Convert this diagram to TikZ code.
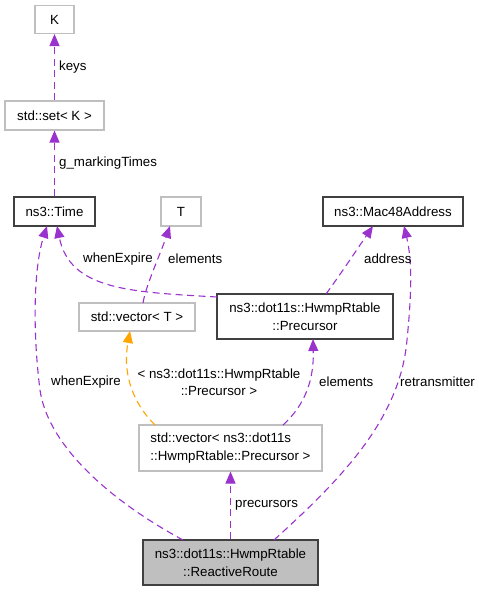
\documentclass[tikz,border=0pt]{standalone}
\usepackage{fontspec}
\setmainfont{Liberation Sans}
\usetikzlibrary{arrows.meta}
\definecolor{edgepurple}{HTML}{9A32CD}
\definecolor{edgeorange}{HTML}{FFA500}
\definecolor{boxgray}{HTML}{BFBFBF}
\definecolor{boxdark}{HTML}{404040}
\tikzset{
  base/.style={rectangle, inner sep=0pt, font=\fontsize{13.3}{17.5}\selectfont, text=black},
  gbox/.style={base, draw=boxgray, line width=1.1pt, fill=white},
  dbox/.style={base, draw=boxdark, line width=1.1pt, fill=white},
  rbox/.style={base, draw=boxdark, line width=1.1pt, fill=boxgray},
  edge/.style={draw=edgepurple, line width=1.1pt, dash pattern=on 7pt off 4.5pt,
    -{Triangle[length=12pt,width=10pt,fill=edgepurple]}},
  tedge/.style={draw=edgeorange, line width=1.1pt, dash pattern=on 7pt off 4.5pt,
    -{Triangle[length=12pt,width=10pt,fill=edgeorange]}},
  lbl/.style={inner sep=0pt, font=\fontsize{13.3}{17.5}\selectfont, text=black, anchor=west},
}
\begin{document}
\begin{tikzpicture}[x=1pt,y=-1pt]
\useasboundingbox (0,0) rectangle (479,592);
% nodes
\node[gbox, minimum width=39pt, minimum height=28pt] (K) at (54.5,19.5) {K};
\node[gbox, minimum width=99pt, minimum height=29pt] (set) at (54.5,115.5) {std::set< K >};
\node[dbox, minimum width=81pt, minimum height=29pt] (time) at (54.5,211.5) {ns3::Time};
\node[gbox, minimum width=40pt, minimum height=29pt] (T) at (181,211.5) {T};
\node[dbox, minimum width=140pt, minimum height=29pt] (mac) at (393,211.5) {ns3::Mac48Address};
\node[gbox, minimum width=116pt, minimum height=28pt] (vecT) at (137,317) {std::vector< T >};
\node[dbox, minimum width=176pt, minimum height=45pt, align=center] (prec) at (305,316.5) {ns3::dot11s::HwmpRtable\\::Precursor};
\node[gbox, minimum width=183pt, minimum height=46pt, align=left] (vecP) at (230.5,448) {std::vector< ns3::dot11s\\::HwmpRtable::Precursor >};
\node[rbox, minimum width=175pt, minimum height=45pt, align=center] (rr) at (230.5,562.5) {ns3::dot11s::HwmpRtable\\::ReactiveRoute};
% coordinates on borders
\coordinate (rrA) at (183,540);
\coordinate (rrB) at (274,540);
\coordinate (timeA) at (47,226);
\coordinate (timeB) at (57,226);
\coordinate (precTL) at (217,297);
\coordinate (precTop) at (326,294);
\coordinate (precBot) at (313,339);
\coordinate (macA) at (373,226);
\coordinate (macB) at (404,226);
\coordinate (vecTtop) at (143,303);
\coordinate (vecTbot) at (130,331);
\coordinate (Tbot) at (170,226);
\coordinate (vecPA) at (155,425);
\coordinate (vecPB) at (283,425);
% edges
\draw[edge] (set.north) -- (K.south);
\draw[edge] (time.north) -- (set.south);
\draw[edge] (rrA) .. controls (100,495) and (47,440) .. (40,390) .. controls (33,335) and (33,270) .. (timeA);
\draw[edge] (precTL) .. controls (130,292) and (70,290) .. (timeB);
\draw[edge] (vecTtop) .. controls (146,285) and (160,255) .. (Tbot);
\draw[edge] (precTop) .. controls (340,275) and (360,245) .. (macA);
\draw[edge] (rrB) .. controls (340,480) and (400,420) .. (407,340) .. controls (412,290) and (412,260) .. (macB);
\draw[tedge] (vecPA) .. controls (130,400) and (123,370) .. (vecTbot);
\draw[edge] (vecPB) .. controls (305,405) and (314,380) .. (precBot);
\draw[edge] (rr.north) -- (vecP.south);
% labels
\node[lbl] (l1) at (59,67) {keys};
\node[lbl] (l2) at (59,163) {g\_markingTimes};
\node[lbl] (l3) at (51,382) {whenExpire};
\node[lbl] (l4) at (83,259) {whenExpire};
\node[lbl] (l5) at (168,259) {elements};
\node[lbl] (l6) at (364,259) {address};
\node[lbl, anchor=center, align=center] (l7) at (219,382) {< ns3::dot11s::HwmpRtable\\::Precursor >};
\node[lbl] (l8) at (319,382) {elements};
\node[lbl] (l9) at (400,382) {retransmitter};
\node[lbl] (l10) at (235,505) {precursors};
\end{tikzpicture}
\end{document}
